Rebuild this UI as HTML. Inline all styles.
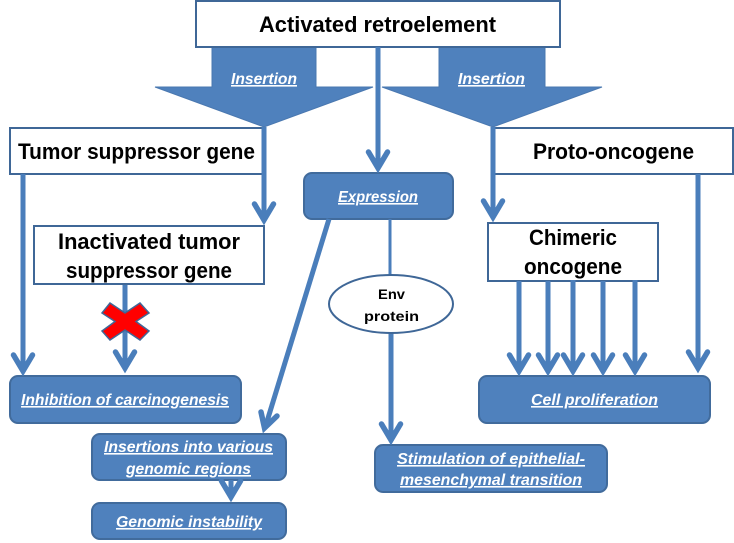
<!DOCTYPE html>
<html>
<head>
<meta charset="utf-8">
<style>
html,body{margin:0;padding:0;background:#fff;}
svg{display:block;}
text{font-family:"Liberation Sans",sans-serif;font-weight:bold;}
.h{font-size:22px;fill:#000;}
.e{font-size:14px;fill:#000;}
.w{font-size:16px;fill:#fff;font-style:italic;text-decoration:underline;}
.box{fill:#fff;stroke:#3f6797;stroke-width:2;}
.rb{fill:#4f81bd;stroke:#416b9c;stroke-width:2;}
.l{fill:none;stroke:#4a7ebb;stroke-width:5;}
.a{fill:none;stroke:#4a7ebb;stroke-width:5.500;stroke-linecap:round;stroke-linejoin:miter;}
</style>
</head>
<body>
<svg width="734" height="543" viewBox="0 0 734 543" xmlns="http://www.w3.org/2000/svg">
<rect width="734" height="543" fill="#fff"/>

<!-- block arrows -->
<polygon points="212,47 316,47 316,87 373,87 264,127 155,87 212,87" fill="#4f81bd" stroke="#4a78b0" stroke-width="1"/>
<polygon points="439,47 545,47 545,87 602,87 493,127 382,87 439,87" fill="#4f81bd" stroke="#4a78b0" stroke-width="1"/>

<!-- rounded boxes -->
<rect class="rb" x="304" y="173" width="149" height="46" rx="8"/>
<rect class="rb" x="10" y="376" width="231" height="47" rx="8"/>
<rect class="rb" x="479" y="376" width="231" height="47" rx="8"/>
<rect class="rb" x="92" y="434" width="194" height="46" rx="8"/>
<rect class="rb" x="92" y="503" width="194" height="36" rx="8"/>
<rect class="rb" x="375" y="445" width="232" height="47" rx="8"/>

<!-- white boxes -->
<rect class="box" x="196" y="1" width="364" height="46"/>
<rect class="box" x="10" y="128" width="253" height="46"/>
<rect class="box" x="493" y="128" width="240" height="46"/>
<rect class="box" x="34" y="226" width="230" height="58"/>
<rect class="box" x="488" y="223" width="170" height="58"/>

<!-- lines and arrowheads -->
<path class="l" d="M378,47V168"/><path class="a" d="M368.500,152L378,168L387.500,152"/>
<path class="l" d="M264,127V220"/><path class="a" d="M254.500,204L264,220L273.500,204"/>
<path class="l" d="M493,127V217"/><path class="a" d="M483.500,201L493,217L502.500,201"/>
<path class="l" d="M23,174V371"/><path class="a" d="M13.500,355L23,371L32.500,355"/>
<path class="l" d="M125,285V368"/><path class="a" d="M115.500,352L125,368L134.500,352"/>
<path class="l" d="M329,219L265,428"/><path class="a" d="M261,412L264.500,428L277,416"/>
<path class="l" d="M231,480V497"/><path class="a" d="M221.500,481L231,497L240.500,481"/>
<path d="M390,219V275" fill="none" stroke="#4a7ebb" stroke-width="3"/>
<path class="l" d="M391,333V440"/><path class="a" d="M381.500,424L391,440L400.500,424"/>
<path class="l" d="M519,281V371"/><path class="a" d="M509.500,355L519,371L528.500,355"/>
<path class="l" d="M548,281V371"/><path class="a" d="M538.500,355L548,371L557.500,355"/>
<path class="l" d="M573,280V371"/><path class="a" d="M563.500,355L573,371L582.500,355"/>
<path class="l" d="M603,281V371"/><path class="a" d="M593.500,355L603,371L612.500,355"/>
<path class="l" d="M635,280V371"/><path class="a" d="M625.500,355L635,371L644.500,355"/>
<path class="l" d="M698,174V368"/><path class="a" d="M688.500,352L698,368L707.500,352"/>

<!-- Env ellipse -->
<ellipse cx="391" cy="304" rx="62" ry="29" fill="#fff" stroke="#3f6797" stroke-width="2"/>

<!-- red X -->
<polygon points="110,303 125,313 140,303 149,313 136,321.500 149,331 140,340 125,330 110,340 102,331 115,321.500 102,313" fill="#ff0000" stroke="#3f6797" stroke-width="1.500"/>

<!-- black labels -->
<text class="h" x="259" y="32" textLength="237" lengthAdjust="spacingAndGlyphs">Activated retroelement</text>
<text class="h" x="18" y="159" textLength="237" lengthAdjust="spacingAndGlyphs">Tumor suppressor gene</text>
<text class="h" x="533" y="159" textLength="161" lengthAdjust="spacingAndGlyphs">Proto-oncogene</text>
<text class="h" x="58" y="249" textLength="182" lengthAdjust="spacingAndGlyphs">Inactivated tumor</text>
<text class="h" x="66" y="278" textLength="166" lengthAdjust="spacingAndGlyphs">suppressor gene</text>
<text class="h" x="529" y="245" textLength="88" lengthAdjust="spacingAndGlyphs">Chimeric</text>
<text class="h" x="524" y="274" textLength="98" lengthAdjust="spacingAndGlyphs">oncogene</text>
<text class="e" x="378" y="299" textLength="27" lengthAdjust="spacingAndGlyphs">Env</text>
<text class="e" x="364" y="321" textLength="55" lengthAdjust="spacingAndGlyphs">protein</text>

<!-- white labels -->
<text class="w" x="231" y="84" textLength="66" lengthAdjust="spacingAndGlyphs">Insertion</text>
<text class="w" x="458" y="84" textLength="67" lengthAdjust="spacingAndGlyphs">Insertion</text>
<text class="w" x="338" y="202" textLength="80" lengthAdjust="spacingAndGlyphs">Expression</text>
<text class="w" x="21" y="405" textLength="208" lengthAdjust="spacingAndGlyphs">Inhibition of carcinogenesis</text>
<text class="w" x="531" y="405" textLength="127" lengthAdjust="spacingAndGlyphs">Cell proliferation</text>
<text class="w" x="104" y="452" textLength="169" lengthAdjust="spacingAndGlyphs">Insertions into various</text>
<text class="w" x="126" y="474" textLength="125" lengthAdjust="spacingAndGlyphs">genomic regions</text>
<text class="w" x="116" y="527" textLength="146" lengthAdjust="spacingAndGlyphs">Genomic instability</text>
<text class="w" x="397" y="464" textLength="188" lengthAdjust="spacingAndGlyphs">Stimulation of epithelial-</text>
<text class="w" x="400" y="485" textLength="182" lengthAdjust="spacingAndGlyphs">mesenchymal transition</text>
</svg>
</body>
</html>
